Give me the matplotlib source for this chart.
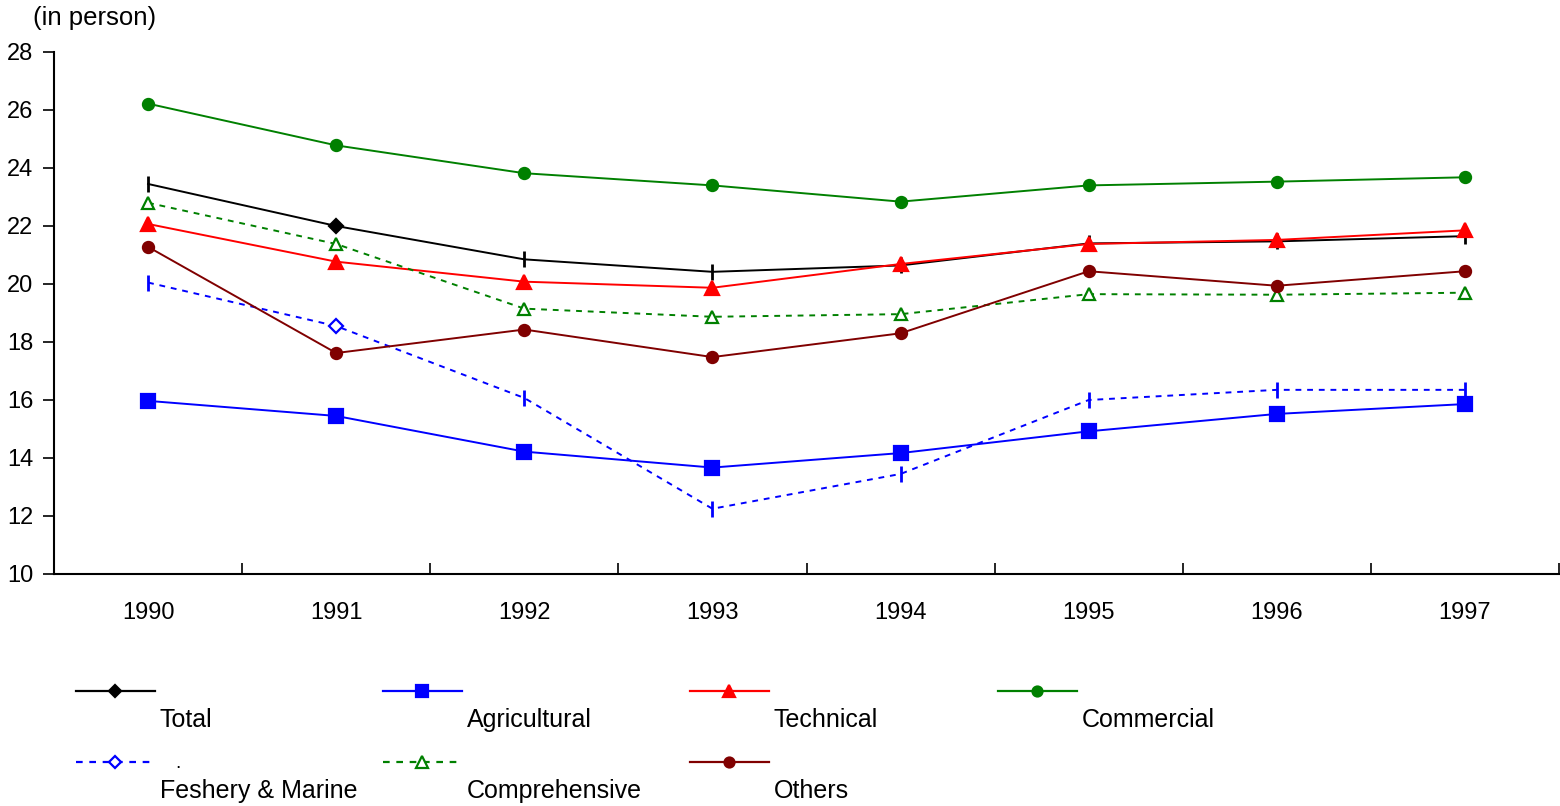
import matplotlib
matplotlib.use("Agg")
import matplotlib.pyplot as plt
from matplotlib.lines import Line2D

plt.rcParams['font.family'] = ['Liberation Sans', 'DejaVu Sans']

years = ["1990", "1991", "1992", "1993", "1994", "1995", "1996", "1997"]
total = [23.45, 22.0, 20.85, 20.42, 20.64, 21.4, 21.47, 21.65]
agricultural = [15.97, 15.45, 14.22, 13.67, 14.17, 14.92, 15.52, 15.86]
technical = [22.07, 20.77, 20.08, 19.87, 20.69, 21.38, 21.52, 21.85]
commercial = [26.22, 24.78, 23.82, 23.4, 22.84, 23.4, 23.53, 23.68]
fishery = [20.05, 18.55, 16.07, 12.25, 13.45, 16.0, 16.35, 16.35]
comprehensive = [22.8, 21.38, 19.15, 18.87, 18.96, 19.65, 19.63, 19.7]
others = [21.28, 17.62, 18.43, 17.48, 18.3, 20.44, 19.94, 20.44]

series_names = ["Total", "Agricultural", "Technical", "Commercial",
                "Feshery & Marine", "Comprehensive", "Others"]

styles = [
    dict(color='black', ls='-', marker='D', ms=7, mfc='black', tick=True),
    dict(color='#0000FF', ls='-', marker='s', ms=10, mfc='#0000FF', tick=False),
    dict(color='#FF0000', ls='-', marker='^', ms=10, mfc='#FF0000', tick=False),
    dict(color='#008000', ls='-', marker='o', ms=8, mfc='#008000', tick=False),
    dict(color='#0000FF', ls=(0, (3, 3)), marker='D', ms=7, mfc='white', tick=True),
    dict(color='#008000', ls=(0, (3, 3)), marker='^', ms=9, mfc='white', tick=False),
    dict(color='#800000', ls='-', marker='o', ms=8, mfc='#800000', tick=False),
]
data = [total, agricultural, technical, commercial, fishery, comprehensive, others]

fig = plt.figure(figsize=(15.6, 8.06), dpi=100)
ax = fig.add_axes([54/1560, 1-574/806, (1559-54)/1560, (574-52)/806])

x = list(range(len(years)))
for vals, st in zip(data, styles):
    if st['tick']:
        ax.plot(x, vals, color=st['color'], linestyle=st['ls'], linewidth=1.4,
                marker='|', markersize=11, markeredgewidth=2,
                markevery=[0, 2, 3, 4, 5, 6, 7], zorder=3)
        ax.plot(x, vals, linestyle='none', marker=st['marker'],
                markersize=st['ms'], markerfacecolor=st['mfc'],
                markeredgecolor=st['color'], markeredgewidth=1.6,
                markevery=[1], zorder=3)
    else:
        ax.plot(x, vals, color=st['color'], linestyle=st['ls'], linewidth=1.4,
                marker=st['marker'], markersize=st['ms'], markerfacecolor=st['mfc'],
                markeredgecolor=st['color'], markeredgewidth=1.6, zorder=3)

ax.set_xlim(-0.5, 7.5)
ax.set_ylim(10, 28)
ax.set_yticks(range(10, 29, 2))
ax.set_yticklabels([str(v) for v in range(10, 29, 2)], fontsize=17)
ax.set_xticks(x)
ax.set_xticklabels(years, fontsize=17)
ax.tick_params(axis='x', which='major', length=0, pad=20)
ax.set_xticks([i + 0.5 for i in range(len(years))], minor=True)
ax.tick_params(axis='x', which='minor', direction='in', length=8, width=1.2)
ax.tick_params(axis='y', direction='out', length=8, width=1.2, pad=7)
for s in ['top', 'right']:
    ax.spines[s].set_visible(False)
for s in ['left', 'bottom']:
    ax.spines[s].set_linewidth(1.5)

fig.text(33/1560, 1-18/806, "(in person)", fontsize=18.5, ha='left', va='center')

# manual legend
col_x = [76, 383, 690, 998]
row_y = [691, 762]
for i, (name, st) in enumerate(zip(series_names, styles)):
    r, c = divmod(i, 4)
    x0 = col_x[c]
    y0 = row_y[r]
    ln = Line2D([x0/1560, (x0 + 79)/1560], [1-y0/806, 1-y0/806],
                transform=fig.transFigure, color=st['color'], linestyle=st['ls'],
                linewidth=1.6)
    fig.add_artist(ln)
    mk = Line2D([(x0 + 39)/1560], [1-y0/806], transform=fig.transFigure,
                color=st['color'], marker=st['marker'], markersize=st['ms']*0.9,
                markerfacecolor=st['mfc'], markeredgecolor=st['color'],
                markeredgewidth=1.6, linestyle='none')
    fig.add_artist(mk)
    fig.text((x0 + 84)/1560, 1-(y0 + 29)/806, name, fontsize=18,
             ha='left', va='center')

fig.text(178/1560, 1-763/806, ".", fontsize=14, ha='center', va='center')

fig.savefig("out.png", dpi=100)
